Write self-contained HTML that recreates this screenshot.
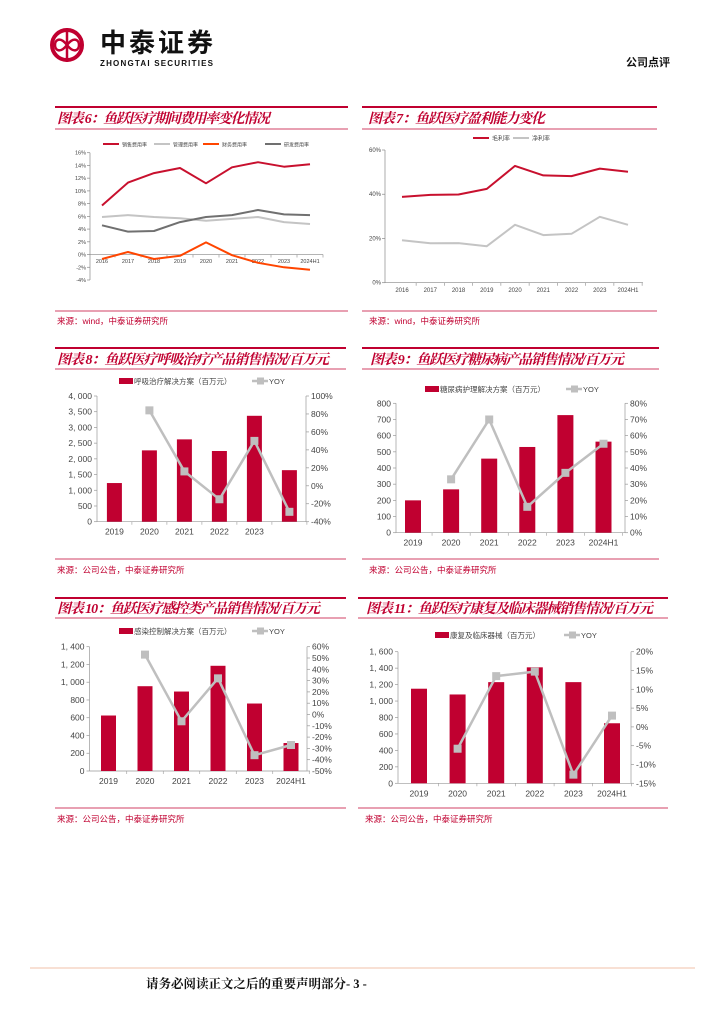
<!DOCTYPE html>
<html><head><meta charset="utf-8"><style>
html,body{margin:0;padding:0;background:#fff}
svg{display:block}
text{font-family:"Liberation Sans","Noto Sans CJK SC",sans-serif}
.t{font-family:"Liberation Serif","Noto Serif CJK SC",serif;font-weight:bold;font-style:italic;fill:#c00030;font-size:14px}
.src{font-family:"Liberation Sans","Noto Sans CJK SC",sans-serif;fill:#c00030;font-size:8.5px}
</style></head><body>
<svg id="page" width="724" height="1024" viewBox="0 0 724 1024" xmlns="http://www.w3.org/2000/svg">
<g>
<circle cx="67" cy="45" r="15" fill="none" stroke="#c00030" stroke-width="4"/>
<line x1="67" y1="28" x2="67" y2="62" stroke="#c00030" stroke-width="2.5"/>
<path d="M67 45 C60 36,55 40,55 45 C55 50,60 54,67 45 C74 36,79 40,79 45 C79 50,74 54,67 45" fill="none" stroke="#c00030" stroke-width="2.5"/>
</g>
<text x="100" y="52" font-size="26" font-weight="bold" fill="#111" textLength="113">中泰证券</text>
<text x="100" y="66" font-size="8" font-weight="bold" fill="#111" textLength="113">ZHONGTAI SECURITIES</text>
<text x="626" y="66" font-size="11" font-weight="bold" fill="#111">公司点评</text>

<g stroke="#c00030">
<line x1="55" y1="107" x2="348" y2="107" stroke-width="2"/><line x1="55" y1="129" x2="348" y2="129" stroke-width="0.8"/><line x1="55" y1="311" x2="348" y2="311" stroke-width="0.8"/>
<line x1="362" y1="107" x2="657" y2="107" stroke-width="2"/><line x1="362" y1="129" x2="657" y2="129" stroke-width="0.8"/><line x1="362" y1="311" x2="657" y2="311" stroke-width="0.8"/>
<line x1="55" y1="348" x2="346" y2="348" stroke-width="2"/><line x1="55" y1="369" x2="346" y2="369" stroke-width="0.8"/><line x1="55" y1="559" x2="346" y2="559" stroke-width="0.8"/>
<line x1="362" y1="348" x2="659" y2="348" stroke-width="2"/><line x1="362" y1="369" x2="659" y2="369" stroke-width="0.8"/><line x1="362" y1="559" x2="659" y2="559" stroke-width="0.8"/>
<line x1="55" y1="598" x2="346" y2="598" stroke-width="2"/><line x1="55" y1="618" x2="346" y2="618" stroke-width="0.8"/><line x1="55" y1="808" x2="346" y2="808" stroke-width="0.8"/>
<line x1="358" y1="598" x2="668" y2="598" stroke-width="2"/><line x1="358" y1="618" x2="668" y2="618" stroke-width="0.8"/><line x1="358" y1="808" x2="668" y2="808" stroke-width="0.8"/>
</g>
<text class="t" x="57" y="123" textLength="213">图表 6：鱼跃医疗期间费用率变化情况</text>
<text class="t" x="368" y="123" textLength="177">图表 7：鱼跃医疗盈利能力变化</text>
<text class="t" x="57" y="364" textLength="272">图表 8：鱼跃医疗呼吸治疗产品销售情况/百万元</text>
<text class="t" x="370" y="364" textLength="254">图表 9：鱼跃医疗糖尿病产品销售情况/百万元</text>
<text class="t" x="57" y="613" textLength="263">图表 10：鱼跃医疗感控类产品销售情况/百万元</text>
<text class="t" x="366" y="613" textLength="287">图表 11：鱼跃医疗康复及临床器械销售情况/百万元</text>
<text class="src" x="57" y="324">来源：wind，中泰证券研究所</text>
<text class="src" x="369" y="324">来源：wind，中泰证券研究所</text>
<text class="src" x="57" y="573">来源：公司公告，中泰证券研究所</text>
<text class="src" x="369" y="573">来源：公司公告，中泰证券研究所</text>
<text class="src" x="57" y="822">来源：公司公告，中泰证券研究所</text>
<text class="src" x="365" y="822">来源：公司公告，中泰证券研究所</text>
<line x1="30" y1="968" x2="695" y2="968" stroke="#f0c0a8" stroke-width="1"/>
<text x="146" y="988" font-size="12.5" font-weight="bold" fill="#111" style="font-family:'Liberation Serif','Noto Serif CJK SC',serif">请务必阅读正文之后的重要声明部分- 3 -</text>
<g id="charts"></g>
</svg>
<script>
// Chart 6
var c6Cats=["2016","2017","2018","2019","2020","2021","2022","2023","2024H1"];
var c6Sales=[7.7,11.3,12.8,13.6,11.2,13.7,14.5,13.8,14.2];
var c6Admin=[5.9,6.2,5.9,5.7,5.3,5.6,5.9,5.1,4.8];
var c6Fin=[-0.7,0.4,-0.7,-0.2,1.9,-0.1,-1.3,-2.0,-2.4];
var c6RD=[4.6,3.6,3.7,5.1,5.9,6.2,7.0,6.3,6.2];
var c6Ticks=[-4,-2,0,2,4,6,8,10,12,14,16];
var c6Names=["销售费用率","管理费用率","财务费用率","研发费用率"];
// Chart 7
var c7Cats=["2016","2017","2018","2019","2020","2021","2022","2023","2024H1"];
var c7Gross=[38.8,39.7,39.9,42.4,52.8,48.5,48.2,51.6,50.2];
var c7Net=[19.2,17.8,17.9,16.5,26.2,21.5,22.1,29.8,26.2];
var c7Ticks=[0,20,40,60];
var c7Names=["毛利率","净利率"];
// Chart 8
var c8Cats=["2019","2020","2021","2022","2023",""];
var c8Sales=[1230,2270,2620,2250,3370,1640];
var c8Yoy=[null,84,16,-15,50,-29];
var c8LeftTicks=[0,500,1000,1500,2000,2500,3000,3500,4000];
var c8RightTicks=[-40,-20,0,20,40,60,80,100];
// Chart 9
var c9Cats=["2019","2020","2021","2022","2023","2024H1"];
var c9Sales=[200,268,458,530,727,563];
var c9Yoy=[null,33,70,16,37,55];
var c9LeftTicks=[0,100,200,300,400,500,600,700,800];
var c9RightTicks=[0,10,20,30,40,50,60,70,80];
// Chart 10
var c10Cats=["2019","2020","2021","2022","2023","2024H1"];
var c10Sales=[625,955,895,1185,760,315];
var c10Yoy=[null,53,-6,32,-36,-27];
var c10LeftTicks=[0,200,400,600,800,1000,1200,1400];
var c10RightTicks=[-50,-40,-30,-20,-10,0,10,20,30,40,50,60];
// Chart 11
var c11Cats=["2019","2020","2021","2022","2023","2024H1"];
var c11Sales=[1150,1080,1230,1410,1230,730];
var c11Yoy=[null,-5.8,13.5,14.7,-12.7,3.0];
var c11LeftTicks=[0,200,400,600,800,1000,1200,1400,1600];
var c11RightTicks=[-15,-10,-5,0,5,10,15,20];

var NS="http://www.w3.org/2000/svg";
var root=document.getElementById('charts');
function mk(tag,a,parent){var e=document.createElementNS(NS,tag);for(var k in a)e.setAttribute(k,a[k]);(parent||root).appendChild(e);return e;}
function txt(s,a,parent,name){var e=mk('text',a,parent);e.textContent=s;


return e;}
function fmt(v){return v.toString().replace(/\B(?=(\d{3})+(?!\d))/g,", ");}

function lineChart(id,cats,series,ticks,L){
  var g=mk('g',{});
  
  
  var vmin=ticks[0],vmax=ticks[ticks.length-1];
  function y(v){return L.yb-(v-vmin)/(vmax-vmin)*(L.yb-L.yt);}
  function x(i){return L.x0+i*L.step;}
  var ax=mk('line',{x1:L.ax,y1:L.yt,x2:L.ax,y2:L.yb,stroke:'#888','stroke-width':0.7},g);
  
  
  ticks.forEach(function(t){
    mk('line',{x1:L.ax-3,x2:L.ax,y1:y(t),y2:y(t),stroke:'#888','stroke-width':0.7},g);
    txt(t+'%',{x:L.ax-4,y:y(t)+2,'font-size':L.fs,'text-anchor':'end',fill:'#444'},g,'y-tick-label');
  });
  var base=y(L.base);
  var xa=mk('line',{x1:L.ax,y1:base,x2:L.end,y2:base,stroke:'#888','stroke-width':0.7},g);
  
  
  cats.forEach(function(c,i){
    mk('line',{x1:x(i)+L.step/2,x2:x(i)+L.step/2,y1:base,y2:base+3,stroke:'#888','stroke-width':0.6},g);
    txt(c,{x:x(i),y:L.ly,'font-size':L.fs,'text-anchor':'middle',fill:'#444'},g,'x-tick-label');
  });
  series.forEach(function(s,k){
    var p=s.vals.map(function(v,i){return x(i).toFixed(1)+','+y(v).toFixed(1);}).join(' ');
    var pl=mk('polyline',{points:p,fill:'none',stroke:s.color,'stroke-width':s.w||2,'stroke-linejoin':'round'},g);
    
    
    var lx=L.legX[k];
    var sw=mk('line',{x1:lx,x2:lx+16,y1:L.legY,y2:L.legY,stroke:s.color,'stroke-width':2},g);
    
    
    txt(s.name,{x:lx+19,y:L.legY+2.5,'font-size':L.lfs,fill:'#444'},g,'legend-entry');
  });
}

function barChart(id,cats,bars,yoy,lt,rt,L){
  var g=mk('g',{});
  
  
  var lmax=lt[lt.length-1],rmin=rt[0],rmax=rt[rt.length-1];
  function yl(v){return L.yb-v/lmax*(L.yb-L.yt);}
  function yr(v){return L.yb-(v-rmin)/(rmax-rmin)*(L.yb-L.yt);}
  function x(i){return L.x0+i*L.step;}
  [L.lx,L.rx].forEach(function(ax){
    var a=mk('line',{x1:ax,y1:L.yt,x2:ax,y2:L.yb,stroke:'#999','stroke-width':0.7},g);
    
    
  });
  lt.forEach(function(t){
    mk('line',{x1:L.lx-3,x2:L.lx,y1:yl(t),y2:yl(t),stroke:'#999','stroke-width':0.7},g);
    txt(fmt(t),{x:L.lx-5,y:yl(t)+3,'font-size':8.5,'text-anchor':'end',fill:'#444'},g,'left-tick-label');
  });
  rt.forEach(function(t){
    mk('line',{x1:L.rx,x2:L.rx+3,y1:yr(t),y2:yr(t),stroke:'#999','stroke-width':0.7},g);
    txt(t+'%',{x:L.rx+5,y:yr(t)+3,'font-size':8.5,fill:'#444'},g,'right-tick-label');
  });
  var xa=mk('line',{x1:L.lx,y1:L.yb,x2:L.rx,y2:L.yb,stroke:'#999','stroke-width':0.7},g);
  
  
  cats.forEach(function(c,i){
    mk('line',{x1:x(i)+L.step/2,x2:x(i)+L.step/2,y1:L.yb,y2:L.yb+3,stroke:'#999','stroke-width':0.6},g);
    txt(c,{x:x(i),y:L.yb+13,'font-size':8.5,'text-anchor':'middle',fill:'#444'},g,'x-tick-label');
  });
  bars.forEach(function(v,i){
    var r=mk('rect',{x:x(i)-L.bw/2,y:yl(v),width:L.bw,height:L.yb-yl(v),fill:'#c00030'},g);
    
    
  });
  var pts=[];
  yoy.forEach(function(v,i){if(v!==null)pts.push([x(i),yr(v)]);});
  var pl=mk('polyline',{points:pts.map(function(p){return p[0].toFixed(1)+','+p[1].toFixed(1);}).join(' '),fill:'none',stroke:'#bfbfbf','stroke-width':2.5},g);
  
  
  pts.forEach(function(p){
    var m=mk('rect',{x:p[0]-4,y:p[1]-4,width:8,height:8,fill:'#bfbfbf'},g);
    
    
  });
  var ls=mk('rect',{x:L.legX,y:L.legY-3,width:14,height:6,fill:'#c00030'},g);
  
  
  txt(L.barName,{x:L.legX+15,y:L.legY+3,'font-size':7.5,fill:'#444'},g,'legend-bar-entry');
  mk('line',{x1:L.yoyX,x2:L.yoyX+16,y1:L.legY,y2:L.legY,stroke:'#bfbfbf','stroke-width':2.5},g);
  var ym=mk('rect',{x:L.yoyX+5,y:L.legY-3.5,width:7,height:7,fill:'#bfbfbf'},g);
  
  
  txt('YOY',{x:L.yoyX+17,y:L.legY+3,'font-size':7.5,fill:'#444'},g,'legend-yoy-entry');
}

lineChart('chart6-expense-ratios',c6Cats,[
 {key:'sales',name:c6Names[0],vals:c6Sales,color:'#c8102e'},
 {key:'admin',name:c6Names[1],vals:c6Admin,color:'#c4c4c4'},
 {key:'finance',name:c6Names[2],vals:c6Fin,color:'#ff4500'},
 {key:'rd',name:c6Names[3],vals:c6RD,color:'#707070'}],c6Ticks,
 {x0:102,step:26,yt:152.7,yb:280,ax:90,end:323,base:0,ly:263,fs:5.5,lfs:5,legY:144,legX:[103,154,203,265]});
lineChart('chart7-profitability',c7Cats,[
 {key:'gross',name:c7Names[0],vals:c7Gross,color:'#c8102e'},
 {key:'net',name:c7Names[1],vals:c7Net,color:'#c4c4c4'}],c7Ticks,
 {x0:402,step:28.25,yt:150,yb:282.7,ax:385,end:643,base:0,ly:292,fs:6,lfs:6,legY:138,legX:[473,513]});
barChart('chart8-respiratory',c8Cats,c8Sales,c8Yoy,c8LeftTicks,c8RightTicks,
 {lx:97,rx:306,yt:396,yb:521.7,x0:114.4,step:35,bw:15,legX:119,legY:381,yoyX:252,barName:'呼吸治疗解决方案（百万元）'});
barChart('chart9-diabetes',c9Cats,c9Sales,c9Yoy,c9LeftTicks,c9RightTicks,
 {lx:396,rx:625,yt:403.3,yb:532.7,x0:413,step:38.1,bw:16,legX:425,legY:389,yoyX:566,barName:'糖尿病护理解决方案（百万元）'});
barChart('chart10-infection-control',c10Cats,c10Sales,c10Yoy,c10LeftTicks,c10RightTicks,
 {lx:89.5,rx:307,yt:646.7,yb:771,x0:108.5,step:36.5,bw:15,legX:119,legY:631,yoyX:252,barName:'感染控制解决方案（百万元）'});
barChart('chart11-rehab-clinical',c11Cats,c11Sales,c11Yoy,c11LeftTicks,c11RightTicks,
 {lx:398,rx:631,yt:651.7,yb:783.3,x0:419,step:38.6,bw:16,legX:435,legY:635,yoyX:564,barName:'康复及临床器械（百万元）'});
</script>
</body></html>
